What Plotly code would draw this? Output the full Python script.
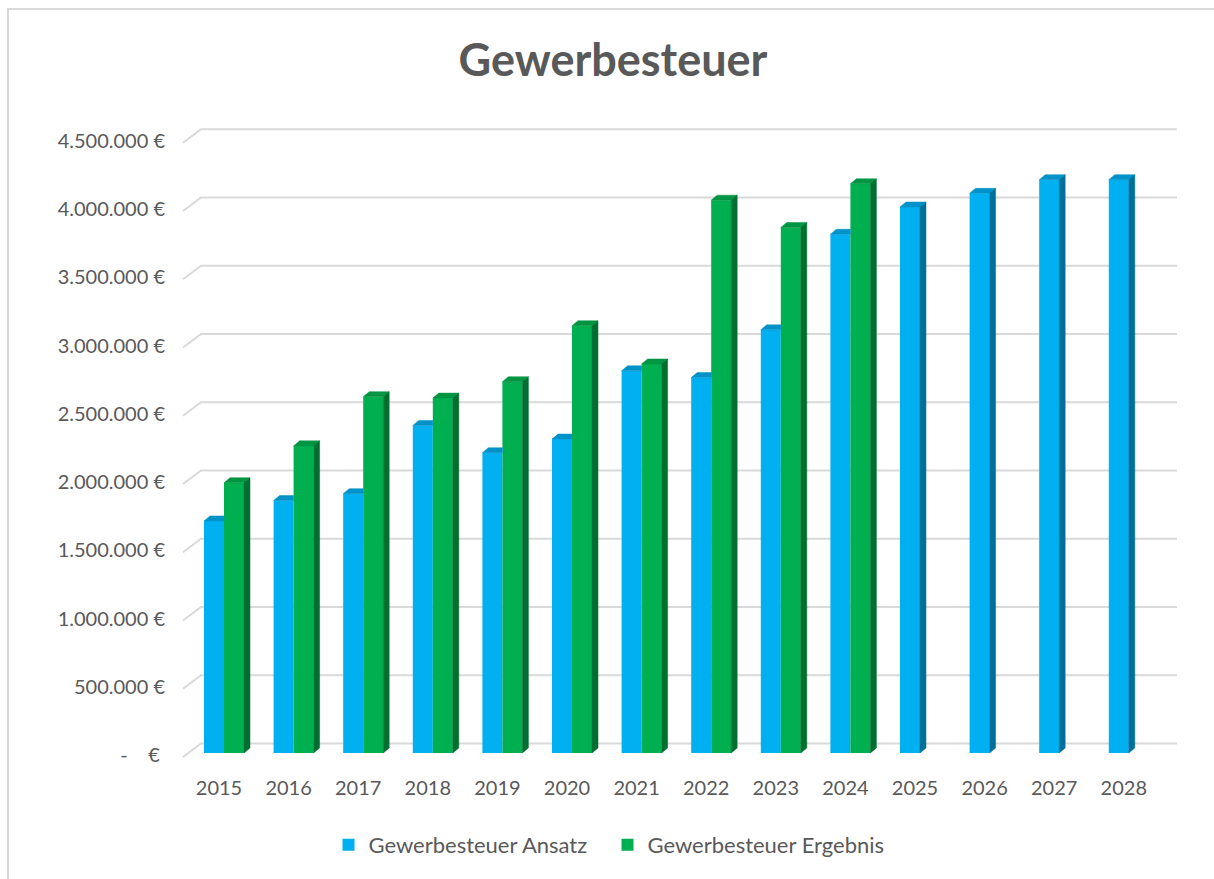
import plotly.graph_objects as go

# ---------------- data ----------------
years = ["2015", "2016", "2017", "2018", "2019", "2020", "2021",
         "2022", "2023", "2024", "2025", "2026", "2027", "2028"]
ansatz = [1700000, 1850000, 1900000, 2400000, 2200000, 2300000, 2800000,
          2750000, 3100000, 3800000, 4000000, 4100000, 4200000, 4200000]
ergebnis = [1980000, 2250000, 2610000, 2600000, 2720000, 3130000, 2850000,
            4050000, 3850000, 4170000, None, None, None, None]
y_ticks = [0, 500000, 1000000, 1500000, 2000000, 2500000, 3000000,
           3500000, 4000000, 4500000]
y_ticktext = ["-\u00a0\u00a0\u00a0\u00a0€\u00a0", "500.000 €", "1.000.000 €",
              "1.500.000 €", "2.000.000 €", "2.500.000 €", "3.000.000 €",
              "3.500.000 €", "4.000.000 €", "4.500.000 €"]
series_names = ["Gewerbesteuer Ansatz", "Gewerbesteuer Ergebnis"]

# ---------------- layout constants (pixels) ----------------
W, H = 1214, 879
PL, PR, PT, PB = 175, 1190, 110, 770          # plot area
X0_PX, X_STEP_PX = 224, 69.6                   # category 0 centre, spacing
Y0_PX, Y_PX_PER_UNIT = 753, 136.5e-6           # front-plane zero, scale

x_range = [(PL - X0_PX) / X_STEP_PX, (PR - X0_PX) / X_STEP_PX]
y_range = [(Y0_PX - PB) / Y_PX_PER_UNIT, (Y0_PX - PT) / Y_PX_PER_UNIT]


def dxu(px):
    return px / X_STEP_PX


def dyu(px):
    return px / Y_PX_PER_UNIT


BAR_W = dxu(20)
DEPTH_X = dxu(6)
DEPTH_Y = dyu(5)

TEXT = "#595959"
GRID = "#D9D9D9"
FONT = "Lato"

blue = dict(front="#00B0F0", top="#0092C8", side="#00709A")
green = dict(front="#00B050", top="#009543", side="#006F30")


def faces(values, offset, hidden_right=None):
    """Top and right-side faces of the 3-D columns.
    hidden_right: values of the neighbouring series drawn to the right;
    where it is present, the right side face is hidden behind it."""
    tx, ty, sx, sy = [], [], [], []
    for i, v in enumerate(values):
        if v is None:
            continue
        x0 = i + offset
        x1 = x0 + BAR_W
        covered = hidden_right is not None and hidden_right[i] is not None
        if covered:
            tx += [x0, x0 + DEPTH_X, x1, x1, x0, None]
            ty += [v, v + DEPTH_Y, v + DEPTH_Y, v, v, None]
        else:
            tx += [x0, x0 + DEPTH_X, x1 + DEPTH_X, x1, x0, None]
            ty += [v, v + DEPTH_Y, v + DEPTH_Y, v, v, None]
            sx += [x1, x1 + DEPTH_X, x1 + DEPTH_X, x1, x1, None]
            sy += [0, DEPTH_Y, v + DEPTH_Y, v, 0, None]
    return tx, ty, sx, sy


fig = go.Figure()

# gridlines (behind everything): slanted stub on side wall + line on back wall
stub_x = dxu(183 - X0_PX)
wall_x = dxu(201 - X0_PX)
right_x = dxu(1177 - X0_PX)
shapes = []
for v in y_ticks:
    yb = v + dyu(9.5)
    shapes.append(dict(type="path", xref="x", yref="y", layer="below",
                       path=f"M{stub_x},{v - dyu(4)} L{wall_x},{yb} L{right_x},{yb}",
                       line=dict(color=GRID, width=2)))

for vals, offset, col, name, right in [(ansatz, -BAR_W, blue, series_names[0], ergebnis),
                                       (ergebnis, 0.0, green, series_names[1], None)]:
    tx, ty, sx, sy = faces(vals, offset, right)
    fig.add_trace(go.Scatter(x=tx, y=ty, mode="lines", fill="toself",
                             fillcolor=col["top"], line=dict(color=col["top"], width=0.5),
                             hoverinfo="skip", showlegend=False))
    if sx:
        fig.add_trace(go.Scatter(x=sx, y=sy, mode="lines", fill="toself",
                                 fillcolor=col["side"], line=dict(color=col["side"], width=0.5),
                                 hoverinfo="skip", showlegend=False))
    fig.add_trace(go.Bar(x=list(range(len(years))), y=vals, name=name,
                         width=BAR_W, offset=offset,
                         marker=dict(color=col["front"], line=dict(width=0))))

# outer chart border
shapes.append(dict(type="rect", xref="paper", yref="paper",
                   x0=(8 - PL) / (PR - PL), x1=(1230 - PL) / (PR - PL),
                   y0=(PB - 900) / (PB - PT), y1=(PB - 9) / (PB - PT),
                   line=dict(color=GRID, width=2), fillcolor="rgba(0,0,0,0)",
                   layer="below"))

fig.update_layout(
    width=W, height=H,
    margin=dict(l=PL, r=W - PR, t=PT, b=H - PB, pad=0),
    paper_bgcolor="white", plot_bgcolor="white",
    barmode="overlay",
    font=dict(family=FONT, color=TEXT, size=20),
    title=dict(text="<b>Gewerbesteuer</b>", x=613 / W, xanchor="center",
               y=1 - 60 / H, yanchor="middle",
               font=dict(family=FONT, size=45, color=TEXT)),
    xaxis=dict(range=x_range, tickvals=list(range(len(years))), ticktext=years,
               showgrid=False, zeroline=False, showline=False, ticks="",
               ticklabelshift=-5, ticklabelstandoff=4,
               tickfont=dict(family=FONT, size=20, color=TEXT)),
    yaxis=dict(range=y_range, tickvals=y_ticks, ticktext=y_ticktext,
               showgrid=False, zeroline=False, showline=False, ticks="",
               ticklabelshift=2, ticklabelstandoff=9,
               tickfont=dict(family=FONT, size=20, color=TEXT)),
    legend=dict(orientation="h", x=(607.5 - PL) / (PR - PL), xanchor="center",
                y=(PB - 845) / (PB - PT), yanchor="middle",
                entrywidth=234, entrywidthmode="pixels",
                font=dict(family=FONT, size=22, color=TEXT), traceorder="normal"),
    shapes=shapes,
)

fig.write_html("out.html", config={"displayModeBar": False},
               post_script="document.body.style.margin='0';")
